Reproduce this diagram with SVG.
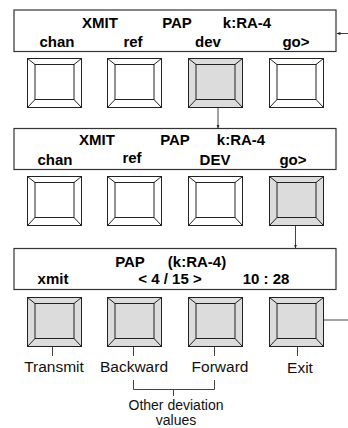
<svg xmlns="http://www.w3.org/2000/svg" xmlns:xlink="http://www.w3.org/1999/xlink" width="348" height="428" viewBox="0 0 348 428">
<style>
.panel{fill:#fff;stroke:#333;stroke-width:1.2}
.b{font-family:"Liberation Sans",Arial,sans-serif;font-weight:bold;font-size:15px;fill:#000;text-anchor:middle}
.r{font-family:"Liberation Sans",Arial,sans-serif;font-size:15.5px;fill:#111;text-anchor:middle}
.s{font-size:14px}
.c{fill:none;stroke:#444;stroke-width:1}
.up{fill:#fff}
.dn{fill:#dcdcdc}
</style>
<defs>
<g id="btn" stroke="#222" stroke-width="1">
<rect x="0.5" y="0.5" width="54" height="49"/>
<rect x="8" y="6.5" width="39" height="35"/>
<path d="M0.5 0.5L8 6.5M54.5 0.5L47 6.5M0.5 49.5L8 41.5M54.5 49.5L47 41.5" fill="none"/>
</g>
<marker id="ah" markerWidth="4" markerHeight="4" refX="3.5" refY="2" orient="auto" markerUnits="userSpaceOnUse">
<path d="M0 0.5L4 2L0 3.5z" fill="#222"/>
</marker>
</defs>
<g id="panel1">
<rect class="panel" x="14" y="10" width="322" height="41.5"/>
<text class="b" x="100" y="28">XMIT</text>
<text class="b" x="177" y="28">PAP</text>
<text class="b" x="247" y="28">k:RA-4</text>
<text class="b" x="57" y="47">chan</text>
<text class="b" x="133" y="47">ref</text>
<text class="b" x="208" y="47">dev</text>
<text class="b" x="296" y="47">go&gt;</text>
</g>
<g id="row1">
<use xlink:href="#btn" class="up" x="27" y="58"/>
<use xlink:href="#btn" class="up" x="107" y="58"/>
<use xlink:href="#btn" class="dn" x="188" y="58"/>
<use xlink:href="#btn" class="up" x="269" y="58"/>
</g>
<g id="panel2">
<rect class="panel" x="14" y="128.5" width="322" height="41"/>
<text class="b" x="97" y="144.5">XMIT</text>
<text class="b" x="175" y="144.5">PAP</text>
<text class="b" x="241" y="144.5">k:RA-4</text>
<text class="b" x="55" y="164.5">chan</text>
<text class="b" x="132" y="163">ref</text>
<text class="b" x="215" y="164.5">DEV</text>
<text class="b" x="293" y="164.5">go&gt;</text>
</g>
<g id="row2">
<use xlink:href="#btn" class="up" x="27" y="176"/>
<use xlink:href="#btn" class="up" x="107" y="176"/>
<use xlink:href="#btn" class="up" x="188" y="176"/>
<use xlink:href="#btn" class="dn" x="269" y="176"/>
</g>
<g id="panel3">
<rect class="panel" x="14" y="248.5" width="322" height="41"/>
<text class="b" x="130" y="267">PAP</text>
<text class="b" x="197" y="267">(k:RA-4)</text>
<text class="b" x="53" y="284">xmit</text>
<text class="b" x="170" y="284">&lt; 4 / 15 &gt;</text>
<text class="b" x="266" y="284">10 : 28</text>
</g>
<g id="row3">
<use xlink:href="#btn" class="dn" x="27" y="297"/>
<use xlink:href="#btn" class="dn" x="107" y="297"/>
<use xlink:href="#btn" class="dn" x="188" y="297"/>
<use xlink:href="#btn" class="dn" x="269" y="297"/>
</g>
<g id="labels">
<text class="r" x="54" y="372">Transmit</text>
<text class="r" x="134" y="372">Backward</text>
<text class="r" x="220" y="372">Forward</text>
<text class="r" x="300" y="373">Exit</text>
<text class="r s" x="176" y="410">Other deviation</text>
<text class="r s" x="176" y="425">values</text>
</g>
<g id="connectors">
<path class="c" d="M348 33.5H337" marker-end="url(#ah)"/>
<path class="c" d="M218 108V128" marker-end="url(#ah)"/>
<path class="c" d="M295.5 226V248" marker-end="url(#ah)"/>
<path class="c" d="M324 320H348"/>
<path class="c" d="M52.5 347V356M133.5 347V356M214.5 347V356M297.5 347V356"/>
<path class="c" d="M133.5 380V389.5H214.5V380M173.5 389.5V396"/>
</g>
</svg>
